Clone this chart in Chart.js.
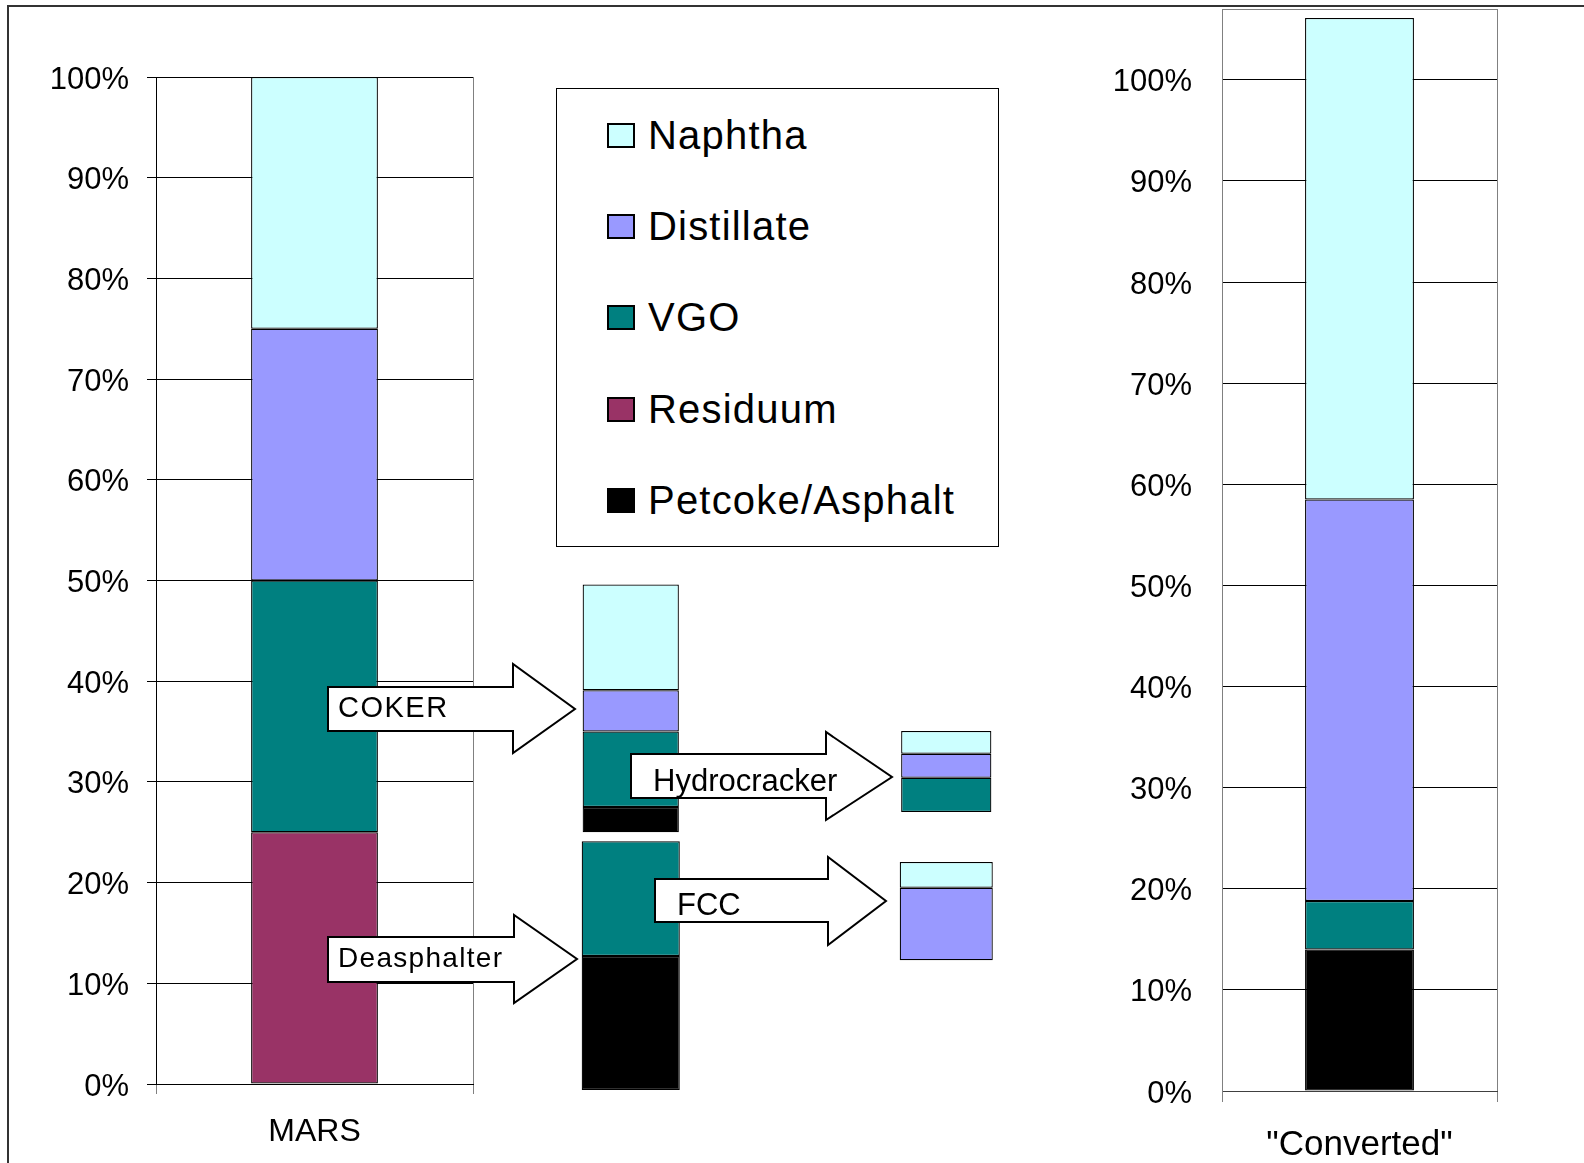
<!DOCTYPE html>
<html lang="en">

<head>
    <meta charset="UTF-8">
    <title>MARS crude - conversion</title>
    <script src="https://cdn.jsdelivr.net/npm/chart.js@4.4.0/dist/chart.umd.min.js"></script>
    <style>
        body {
            margin: 0;
            background: #fff;
            width: 1584px;
            height: 1163px;
            overflow: hidden;
            position: relative;
            font-family: "Liberation Sans", Arial, sans-serif;
        }

        .frame {
            position: absolute;
            left: 7px;
            top: 5px;
            width: 1600px;
            height: 1200px;
            border-left: 2px solid #333;
            border-top: 2px solid #333;
        }

        canvas {
            position: absolute;
            top: 0;
        }

        #marsChart { left: 0; }
        #stepChart { left: 473px; }
        #convChart { left: 1100px; }

        .legend {
            position: absolute;
            left: 556px;
            top: 88px;
            width: 441px;
            height: 457px;
            border: 1px solid #000;
            background: #fff;
        }

        .legend .row {
            position: absolute;
            left: 50px;
            height: 50px;
            line-height: 50px;
            font-size: 40px;
            letter-spacing: 1.2px;
            white-space: nowrap;
        }

        .legend .swatch {
            display: inline-block;
            box-sizing: border-box;
            width: 28px;
            height: 25px;
            border: 2px solid #000;
            margin-right: 13px;
            vertical-align: 1px;
        }

        svg.arrows {
            position: absolute;
            left: 0;
            top: 0;
        }

        svg.arrows polygon {
            fill: #fff;
            stroke: #000;
            stroke-width: 2;
        }

        svg.arrows text {
            font-family: "Liberation Sans", Arial, sans-serif;
            fill: #000;
        }
    </style>
</head>

<body>
    <div class="frame"></div>
    <canvas id="marsChart" width="520" height="1163"></canvas>
    <canvas id="stepChart" width="631" height="1163"></canvas>
    <canvas id="convChart" width="484" height="1163"></canvas>
    <div class="legend" id="legend"></div>

    <svg class="arrows" width="1584" height="1163">
        <polygon points="328,687 513,687 513,664 575,709 513,753 513,731 328,731" />
        <text x="338" y="717" font-size="29" letter-spacing="1.5" id="lblCoker"></text>
        <polygon points="631,754 826,754 826,732 892,777 826,820 826,798 631,798" />
        <text x="653" y="791" font-size="31" id="lblHydro"></text>
        <polygon points="328,937 514,937 514,915 577,959 514,1003 514,982 328,982" />
        <text x="338" y="967" font-size="28" letter-spacing="1.3" id="lblDeasph"></text>
        <polygon points="655,879 828,879 828,857 886,901 828,945 828,922 655,922" />
        <text x="677" y="915" font-size="31" id="lblFcc"></text>
    </svg>

    <script>
        // products, top of the stack first
        const products = ['Naphtha', 'Distillate', 'VGO', 'Residuum', 'Petcoke/Asphalt'];
        const colors = ['#CCFFFF', '#9999FF', '#008080', '#993366', '#000000'];

        // crude assay and final slate, % of crude
        const crudeLabel = ['MARS'];
        const marsYield = [25, 25, 25, 25, 0];
        const convertedLabel = ['"Converted"'];
        const convertedYield = [47.6, 39.7, 4.8, 0, 14];

        // unit streams, % of crude (same order as products), stacked up from stepBase
        const stepNames = ['COKER', 'Deasphalter', 'Hydrocracker', 'FCC'];
        const stepBase = [25, -0.6, 27.0, 12.3];
        const cokerYield = [10.5, 4.1, 7.5, 0, 2.5];
        const deasphalterYield = [0, 0, 11.4, 0, 13.3];
        const hydrocrackerYield = [2.25, 2.4, 3.4, 0, 0];
        const fccYield = [2.55, 7.2, 0, 0, 0];
        const stepYields = [cokerYield, deasphalterYield, hydrocrackerYield, fccYield];

        // layout of the unit bars (column and bar width share)
        const stepColumn = [0, 0, 1, 1];
        const stepBarWidth = [0.305, 0.311, 0.286, 0.295];

        Chart.defaults.font.family = '"Liberation Sans", Arial, sans-serif';
        Chart.defaults.color = '#000';

        // grey box round the plot area, drawn under the grid
        const plotFrame = {
            id: 'plotFrame',
            beforeDraw(chart) {
                const a = chart.chartArea;
                const ctx = chart.ctx;
                ctx.save();
                ctx.strokeStyle = '#808080';
                ctx.lineWidth = 1;
                ctx.strokeRect(Math.round(a.left) + 0.5, Math.round(a.top) + 0.5,
                    Math.round(a.right - a.left), Math.round(a.bottom - a.top));
                ctx.restore();
            }
        };

        function noPad(scale) {
            scale.paddingTop = 0;
            scale.paddingBottom = 0;
            scale.paddingLeft = 0;
            scale.paddingRight = 0;
        }

        function stackedDatasets(values) {
            // first dataset sits at the bottom of the stack
            const out = [];
            for (let p = products.length - 1; p >= 0; p--) {
                out.push({
                    label: products[p],
                    data: [values[p]],
                    backgroundColor: colors[p],
                    borderColor: '#000',
                    borderWidth: 1.25,
                    borderSkipped: false
                });
            }
            return out;
        }

        function stackedChart(id, label, values, opt) {
            return new Chart(document.getElementById(id), {
                type: 'bar',
                data: { labels: label, datasets: stackedDatasets(values) },
                plugins: [plotFrame],
                options: {
                    responsive: false,
                    animation: false,
                    devicePixelRatio: 1,
                    layout: { padding: opt.padding },
                    datasets: { bar: { barPercentage: opt.barPct, categoryPercentage: 1 } },
                    plugins: { legend: { display: false }, tooltip: { enabled: false } },
                    scales: {
                        x: {
                            stacked: true,
                            grid: { color: '#808080', tickLength: opt.xTick, offset: true },
                            border: { color: opt.baseColor },
                            ticks: { font: { size: opt.xFont }, padding: opt.xPad },
                            afterFit(s) { s.height = opt.xHeight; noPad(s); }
                        },
                        y: {
                            stacked: true,
                            min: 0,
                            max: opt.yMax,
                            grid: { color: '#000', drawTicks: opt.yTick > 0, tickLength: opt.yTick },
                            border: { color: opt.axisColor },
                            ticks: {
                                stepSize: 10,
                                includeBounds: false,
                                font: { size: 31 },
                                padding: opt.yPad,
                                labelOffset: 3,
                                callback: v => v + '%'
                            },
                            afterFit(s) { s.width = opt.yWidth; noPad(s); }
                        }
                    }
                }
            });
        }

        stackedChart('marsChart', crudeLabel, marsYield, {
            padding: { top: 77, right: 47, bottom: 0, left: 0 },
            barPct: 0.40, xTick: 10, xFont: 32, xPad: 19, xHeight: 79,
            yMax: 100, yTick: 9, yPad: 18, yWidth: 156,
            axisColor: '#000', baseColor: '#000'
        });

        stackedChart('convChart', convertedLabel, convertedYield, {
            padding: { top: 9, right: 87, bottom: 0, left: 0 },
            barPct: 0.396, xTick: 11, xFont: 35, xPad: 22, xHeight: 72,
            yMax: 107, yTick: 0, yPad: 30, yWidth: 122,
            axisColor: '#808080', baseColor: '#404040'
        });

        // floating bars for each unit's products
        function stepDatasets() {
            const out = [];
            stepYields.forEach((yields, s) => {
                let lo = stepBase[s];
                for (let p = products.length - 1; p >= 0; p--) {
                    if (!yields[p]) continue;
                    const data = [null, null];
                    data[stepColumn[s]] = [lo, lo + yields[p]];
                    lo += yields[p];
                    out.push({
                        label: stepNames[s] + ' ' + products[p],
                        data: data,
                        backgroundColor: colors[p],
                        borderColor: '#000',
                        borderWidth: 1.25,
                        borderSkipped: false,
                        grouped: false,
                        clip: false,
                        barPercentage: stepBarWidth[s],
                        categoryPercentage: 1
                    });
                }
            });
            return out;
        }

        new Chart(document.getElementById('stepChart'), {
            type: 'bar',
            data: { labels: ['first pass', 'second pass'], datasets: stepDatasets() },
            options: {
                responsive: false,
                animation: false,
                devicePixelRatio: 1,
                layout: { padding: { top: 77, right: 0, bottom: 79, left: 0 } },
                plugins: { legend: { display: false }, tooltip: { enabled: false } },
                scales: {
                    x: { display: false },
                    y: { display: false, min: 0, max: 100 }
                }
            }
        });

        // legend box
        const legend = document.getElementById('legend');
        products.forEach((name, i) => {
            const row = document.createElement('div');
            row.className = 'row';
            row.style.top = (21 + i * 91.2) + 'px';
            const sw = document.createElement('span');
            sw.className = 'swatch';
            sw.style.background = colors[i];
            row.appendChild(sw);
            row.appendChild(document.createTextNode(name));
            legend.appendChild(row);
        });

        // arrow captions
        document.getElementById('lblCoker').textContent = stepNames[0];
        document.getElementById('lblDeasph').textContent = stepNames[1];
        document.getElementById('lblHydro').textContent = stepNames[2];
        document.getElementById('lblFcc').textContent = stepNames[3];
    </script>
</body>

</html>
